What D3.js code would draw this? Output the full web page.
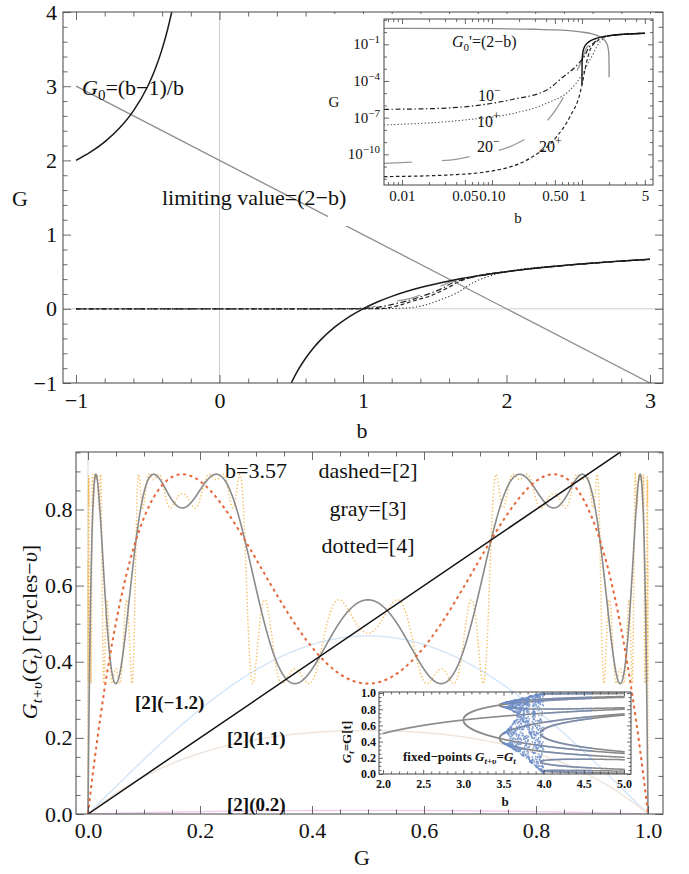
<!DOCTYPE html>
<html><head><meta charset="utf-8">
<script src="https://cdn.jsdelivr.net/npm/d3@7"></script>
<style>
body{margin:0;background:#fff;}
svg{display:block;}
</style></head><body>
<svg id="c" width="689" height="874"></svg>
<script>
// ================= DATA =================
// ---- Top panel (b vs G) ----
const topXMajor = [-1, 0, 1, 2, 3];
const topYMajor = [-1, 0, 1, 2, 3, 4];
// limiting value = (2-b)
const limitB = [-1, 3];
const limitG = [3, -1];
// G0 = (b-1)/b, branch b<0 and branch b>0
const g0NegB = [-1, -0.9, -0.8, -0.7, -0.6, -0.5, -0.45, -0.4, -0.36, -0.333];
const g0NegG = [2, 2.111, 2.25, 2.429, 2.667, 3, 3.222, 3.5, 3.778, 4.0];
const g0PosB = [0.5, 0.55, 0.6, 0.65, 0.7, 0.8, 0.9, 1.0, 1.1, 1.2, 1.4, 1.6, 1.8, 2.0, 2.25, 2.5, 2.75, 3.0];
const g0PosG = [-1, -0.818, -0.667, -0.538, -0.429, -0.25, -0.111, 0, 0.091, 0.167, 0.286, 0.375, 0.444, 0.5, 0.556, 0.6, 0.636, 0.667];
const c10mB = [-1, 0.0063, 0.0205, 0.0736, 0.172, 0.405, 0.62, 0.85, 1.0, 1.075, 1.19, 1.31, 1.42, 1.54, 1.63, 1.75, 2.0, 2.5, 3.0, 5.0];
const c10mG = [5e-7, 4.8e-7, 5.4e-7, 1.07e-6, 3.2e-6, 1.8e-5, 2.2e-4, 1.5e-3, 5.9e-3, 0.012, 0.054, 0.108, 0.175, 0.265, 0.355, 0.42, 0.5, 0.6, 0.667, 0.8];
const c10pB = [-1, 0.0063, 0.048, 0.172, 0.405, 0.735, 1.0, 1.2, 1.34, 1.45, 1.55, 1.66, 1.77, 1.89, 2.0, 2.5, 3.0, 5.0];
const c10pG = [2.4e-8, 2.5e-8, 6.3e-8, 2.2e-7, 1.5e-6, 1.8e-5, 3.2e-4, 4e-3, 0.018, 0.06, 0.13, 0.22, 0.355, 0.445, 0.5, 0.6, 0.667, 0.8];
const c20mB = [-1, 0.0063, 0.0158, 0.0341, 0.0676, 0.158, 0.288, 0.524, 0.735, 0.9, 1.0, 1.1, 1.2, 1.354, 1.5, 1.633, 2.0, 3.0, 5.0];
const c20mG = [1.8e-11, 1.8e-11, 2.5e-11, 3.4e-11, 8.7e-11, 4.2e-10, 5.2e-9, 5.8e-7, 4.7e-5, 1e-3, 5e-3, 0.04, 0.09, 0.153, 0.27, 0.38, 0.5, 0.667, 0.8];
const c20pB = [-1, 0.0063, 0.0313, 0.113, 0.264, 0.524, 0.735, 0.95, 1.0, 1.12, 1.238, 1.354, 1.47, 1.587, 1.668, 1.8, 2.0, 2.5, 3.0, 5.0];
const c20pG = [1.5e-12, 1.5e-12, 2e-12, 5.1e-12, 4.7e-11, 2.8e-9, 1.2e-7, 9.8e-6, 5e-5, 3e-3, 0.04, 0.108, 0.175, 0.28, 0.364, 0.444, 0.5, 0.6, 0.667, 0.8];
// ---- Top inset (log-log) ----
const insetXTicks = [0.01, 0.05, 0.1, 0.5, 1, 5];
const insetXLabels = ["0.01", "0.05", "0.10", "0.50", "1", "5"];
const insetYExp = [-1, -4, -7, -10];
const insetG0B = [1.00005, 1.0002, 1.001, 1.005, 1.02, 1.05, 1.1, 1.2, 1.4, 1.7, 2, 3, 5];
const insetG0G = [5e-5, 2e-4, 1e-3, 5e-3, 0.0196, 0.0476, 0.0909, 0.1667, 0.2857, 0.412, 0.5, 0.667, 0.8];
const insetLimB = [0.0063, 0.01, 0.1, 0.3, 0.5, 0.8, 1, 1.3, 1.6, 1.8, 1.9, 1.95, 1.98, 1.99, 1.995, 1.998, 1.999, 1.9998];
const insetLimG = [1.994, 1.99, 1.9, 1.7, 1.5, 1.2, 1, 0.7, 0.4, 0.2, 0.1, 0.05, 0.02, 0.01, 0.005, 0.002, 0.001, 2e-4];
// ---- Bottom panel: logistic map G -> b G (1-G) ----
const mainB = 3.57;
const cycleNames = ["[2]", "[3]", "[4]"];
const cycleOrders = [2, 4, 8];          // compositions shown
const lightB = [-1.2, 1.1, 0.2];        // [2](b) faint curves
const lightNames = ["[2](\u22121.2)", "[2](1.1)", "[2](0.2)"];
const botXMajor = [0, 0.2, 0.4, 0.6, 0.8, 1.0];
const botYMajor = [0, 0.2, 0.4, 0.6, 0.8];
// ---- Bottom inset: fixed points ----
const bifRange = [2.0, 5.0];
const bifOrder = 4;
const bifXMajor = [2.0, 2.5, 3.0, 3.5, 4.0, 4.5, 5.0];
const bifYMajor = [0, 0.2, 0.4, 0.6, 0.8, 1.0];
const orbitRange = [3.5, 4.0];

// ================= DRAWING =================
const FONT = '"Liberation Serif","Times New Roman",serif';
const svg = d3.select("#c").attr("font-family", FONT);
const TICK = "#444";

function zipPts(a, b) { return a.map((v, i) => [v, b[i]]); }
function minorRange(a, b, step, majors) {
  return d3.range(a, b + step / 2, step).filter(v => !majors.some(m => Math.abs(m - v) < step / 10));
}
function frameAxes(cfg) {
  const {x, y, xMajor, xMinor, yMajor, yMinor, L, l, fs, xFmt, yFmt, xPad, yPad, bold} = cfg;
  const [x0, x1] = x.range(), [y0, y1] = y.range(); // y0 bottom
  const g = svg.append("g");
  function style(sel) {
    sel.select(".domain").remove();
    sel.selectAll("line").attr("stroke", TICK).attr("stroke-width", 0.8);
    sel.attr("font-family", FONT).attr("font-size", fs).attr("font-weight", bold ? "bold" : null);
    sel.selectAll("text").attr("fill", "#111");
  }
  g.append("g").attr("transform", `translate(0,${y0})`).call(d3.axisBottom(x).tickValues(xMajor).tickSize(-L).tickPadding(xPad).tickFormat(xFmt)).call(style);
  g.append("g").attr("transform", `translate(0,${y0})`).call(d3.axisBottom(x).tickValues(xMinor).tickSize(-l).tickFormat("")).call(style);
  g.append("g").attr("transform", `translate(0,${y1})`).call(d3.axisTop(x).tickValues(xMajor).tickSize(-L).tickFormat("")).call(style);
  g.append("g").attr("transform", `translate(0,${y1})`).call(d3.axisTop(x).tickValues(xMinor).tickSize(-l).tickFormat("")).call(style);
  g.append("g").attr("transform", `translate(${x0},0)`).call(d3.axisLeft(y).tickValues(yMajor).tickSize(-L).tickPadding(yPad).tickFormat(yFmt)).call(style);
  g.append("g").attr("transform", `translate(${x0},0)`).call(d3.axisLeft(y).tickValues(yMinor).tickSize(-l).tickFormat("")).call(style);
  g.append("g").attr("transform", `translate(${x1},0)`).call(d3.axisRight(y).tickValues(yMajor).tickSize(-L).tickFormat("")).call(style);
  g.append("g").attr("transform", `translate(${x1},0)`).call(d3.axisRight(y).tickValues(yMinor).tickSize(-l).tickFormat("")).call(style);
  g.append("rect").attr("x", x0).attr("y", y1).attr("width", x1 - x0).attr("height", y0 - y1)
    .attr("fill", "none").attr("stroke", TICK).attr("stroke-width", 1);
  return g;
}
function clip(id, x, y) {
  const [x0, x1] = x.range(), [y0, y1] = y.range();
  svg.append("clipPath").attr("id", id).append("rect").attr("x", x0).attr("y", y1).attr("width", x1 - x0).attr("height", y0 - y1);
  return svg.append("g").attr("clip-path", `url(#${id})`);
}
function txt(g, x, y, size, opts = {}) {
  return g.append("text").attr("x", x).attr("y", y).attr("font-size", size).attr("fill", "#111")
    .attr("text-anchor", opts.anchor || "start").attr("font-weight", opts.bold ? "bold" : null);
}

// ---------- TOP PANEL ----------
const tx = d3.scaleLinear().domain([-1.0906, 3.0906]).range([63, 663]);
const ty = d3.scaleLinear().domain([-1, 4]).range([383, 12]);
const tg = clip("cTop", tx, ty);
// axis lines
tg.append("line").attr("x1", tx(0)).attr("x2", tx(0)).attr("y1", 12).attr("y2", 383).attr("stroke", "#cfcfcf");
tg.append("line").attr("x1", 63).attr("x2", 663).attr("y1", ty(0)).attr("y2", ty(0)).attr("stroke", "#cfcfcf");
const tLine = d3.line().x(d => tx(d[0])).y(d => ty(d[1])).curve(d3.curveMonotoneX);
const tPts = (B, G) => zipPts(B, G).filter(d => d[0] <= 3.2);
tg.append("path").attr("d", tLine(tPts(c10pB, c10pG))).attr("fill", "none").attr("stroke", "#333").attr("stroke-width", 1.1).attr("stroke-dasharray", "1.2,2.2");
tg.append("path").attr("d", tLine(tPts(c20mB, c20mG))).attr("fill", "none").attr("stroke", "#999").attr("stroke-width", 1.2).attr("stroke-dasharray", "24,22");
tg.append("path").attr("d", tLine(tPts(c20pB, c20pG))).attr("fill", "none").attr("stroke", "#222").attr("stroke-width", 1.2).attr("stroke-dasharray", "4,2.5");
tg.append("path").attr("d", tLine(tPts(c10mB, c10mG))).attr("fill", "none").attr("stroke", "#222").attr("stroke-width", 1.2).attr("stroke-dasharray", "6,2.5,1.5,2.5");
tg.append("path").attr("d", tLine(zipPts(limitB, limitG))).attr("fill", "none").attr("stroke", "#8c8c8c").attr("stroke-width", 1.3);
tg.append("path").attr("d", tLine(zipPts(g0NegB, g0NegG))).attr("fill", "none").attr("stroke", "#1a1a1a").attr("stroke-width", 1.5);
tg.append("path").attr("d", tLine(zipPts(g0PosB, g0PosG))).attr("fill", "none").attr("stroke", "#1a1a1a").attr("stroke-width", 1.5);
frameAxes({x: tx, y: ty, xMajor: topXMajor, xMinor: minorRange(-1, 3, 0.2, topXMajor),
  yMajor: topYMajor, yMinor: minorRange(-1, 4, 0.2, topYMajor), L: 8, l: 4.5, fs: 22,
  xFmt: d3.format("d"), yFmt: d3.format("d"), xPad: 9, yPad: 6});
txt(svg, 20, 206, 22, {anchor: "middle"}).text("G");
txt(svg, 362, 438, 22, {anchor: "middle"}).text("b");
{
  const t = txt(svg, 82, 95, 22);
  t.append("tspan").attr("font-style", "italic").text("G");
  t.append("tspan").attr("font-size", 15).attr("dy", 5).text("0");
  t.append("tspan").attr("dy", -5).text("=(b\u22121)/b");
}

// ---------- TOP INSET ----------
const ix = d3.scaleLog().domain([Math.pow(10, -2.2), Math.pow(10, 0.789)]).range([384, 653]);
const iy = d3.scaleLog().domain([Math.pow(10, -12.51), Math.pow(10, 1.07)]).range([185, 19]);
svg.append("rect").attr("x", 328).attr("y", 14).attr("width", 330).attr("height", 212).attr("fill", "#fff");
const ig = clip("cIns", ix, iy);
const iLine = d3.line().x(d => ix(d[0])).y(d => iy(d[1])).curve(d3.curveMonotoneX);
const iPts = (B, G) => zipPts(B, G).filter(d => d[0] > 0);
ig.append("path").attr("d", iLine(iPts(c20mB, c20mG))).attr("fill", "none").attr("stroke", "#999").attr("stroke-width", 1.3).attr("stroke-dasharray", "28,30");
ig.append("path").attr("d", iLine(iPts(c20pB, c20pG))).attr("fill", "none").attr("stroke", "#222").attr("stroke-width", 1.2).attr("stroke-dasharray", "3.5,2.5");
ig.append("path").attr("d", iLine(iPts(c10pB, c10pG))).attr("fill", "none").attr("stroke", "#444").attr("stroke-width", 1.1).attr("stroke-dasharray", "1.2,2.2");
ig.append("path").attr("d", iLine(iPts(c10mB, c10mG))).attr("fill", "none").attr("stroke", "#222").attr("stroke-width", 1.2).attr("stroke-dasharray", "5,2.5,1.5,2.5");
ig.append("path").attr("d", iLine(zipPts(insetLimB, insetLimG))).attr("fill", "none").attr("stroke", "#8c8c8c").attr("stroke-width", 1.3);
ig.append("path").attr("d", iLine(zipPts(insetG0B, insetG0G))).attr("fill", "none").attr("stroke", "#111").attr("stroke-width", 1.4);
{
  const xMinor = [];
  [0.001, 0.01, 0.1, 1].forEach(dec => { for (let k = 1; k <= 9; k++) { const v = dec * k; if (v > 0.0064 && v < 6 && !insetXTicks.some(m => Math.abs(m - v) < 1e-9)) xMinor.push(v); } });
  const yMaj = insetYExp.map(e => Math.pow(10, e));
  const yMin = d3.range(-12, 2).filter(e => !insetYExp.includes(e)).map(e => Math.pow(10, e));
  frameAxes({x: ix, y: iy, xMajor: insetXTicks, xMinor, yMajor: yMaj, yMinor: yMin, L: 5, l: 3, fs: 15,
    xFmt: (d, i) => insetXLabels[i], yFmt: () => "", xPad: 5, yPad: 4});
  insetYExp.forEach(e => {
    const t = txt(svg, 380, iy(Math.pow(10, e)) + 5, 15, {anchor: "end"});
    t.append("tspan").text("10");
    t.append("tspan").attr("font-size", 11).attr("dy", -6).text("\u2212" + Math.abs(e));
  });
}
txt(svg, 334, 107, 15, {anchor: "middle"}).text("G");
txt(svg, 518, 223, 15, {anchor: "middle"}).text("b");
{
  const t = txt(svg, 452, 47, 16);
  t.append("tspan").attr("font-style", "italic").text("G");
  t.append("tspan").attr("font-size", 11).attr("dy", 4).text("0");
  t.append("tspan").attr("dy", -4).text("'=(2\u2212b)");
}
[["10", "\u2212", 478, 101], ["10", "+", 477, 127], ["20", "\u2212", 477, 152], ["20", "+", 539, 152]].forEach(([a, s, x, y]) => {
  const t = txt(svg, x, y, 16);
  t.append("tspan").text(a);
  t.append("tspan").attr("font-size", 12).attr("dy", -7).text(s);
});
// main-panel label drawn over the inset background
txt(svg, 162, 205, 22).text("limiting value=(2\u2212b)");

// ---------- BOTTOM PANEL ----------
const fIter = (b, x, n) => { for (let i = 0; i < n; i++) x = b * x * (1 - x); return x; };
const bx = d3.scaleLinear().domain([-0.0214, 1.0268]).range([76, 663]);
const by = d3.scaleLinear().domain([0, 0.951]).range([814, 452]);
const bg = clip("cBot", bx, by);
bg.append("line").attr("x1", bx(0)).attr("x2", bx(0)).attr("y1", 452).attr("y2", 814).attr("stroke", "#d8d8d8");
const bLine = d3.line().x(d => bx(d[0])).y(d => by(d[1]));
const grid = d3.range(0, 6001).map(i => i / 6000);
const lightCol = ["#d3e6f9", "#eee4dc", "#f2cdf0"];
lightB.forEach((b, k) => {
  bg.append("path").attr("d", bLine(grid.filter((_, i) => i % 10 === 0).map(x => [x, fIter(b, x, 2)])))
    .attr("fill", "none").attr("stroke", lightCol[k]).attr("stroke-width", 1.4);
});
// dotted [4]
bg.append("path").attr("d", bLine(grid.map(x => [x, fIter(mainB, x, cycleOrders[2])])))
  .attr("fill", "none").attr("stroke", "#f5ae3c").attr("stroke-opacity", 0.85).attr("stroke-width", 1.5).attr("stroke-dasharray", "1.2,2.3");
// gray [3]
bg.append("path").attr("d", bLine(grid.filter((_, i) => i % 3 === 0).map(x => [x, fIter(mainB, x, cycleOrders[1])])))
  .attr("fill", "none").attr("stroke", "#8a8a8a").attr("stroke-width", 1.6);
// dashed [2]
bg.append("path").attr("d", bLine(grid.filter((_, i) => i % 6 === 0).map(x => [x, fIter(mainB, x, cycleOrders[0])])))
  .attr("fill", "none").attr("stroke", "#e6683a").attr("stroke-width", 2).attr("stroke-dasharray", "3,3.5");
// diagonal
bg.append("path").attr("d", bLine([[0, 0], [1, 1]])).attr("fill", "none").attr("stroke", "#111").attr("stroke-width", 1.5);
frameAxes({x: bx, y: by, xMajor: botXMajor, xMinor: minorRange(0, 1, 0.05, botXMajor),
  yMajor: botYMajor, yMinor: minorRange(0, 0.95, 0.05, botYMajor), L: 8, l: 4.5, fs: 22,
  xFmt: d3.format(".1f"), yFmt: d3.format(".1f"), xPad: 8.5, yPad: 3.5});
txt(svg, 362, 865, 22, {anchor: "middle"}).text("G");
{
  const t = svg.append("text").attr("transform", "translate(37,632) rotate(-90)").attr("text-anchor", "middle").attr("font-size", 22).attr("fill", "#111");
  t.append("tspan").attr("font-style", "italic").text("G");
  t.append("tspan").attr("font-style", "italic").attr("font-size", 15).attr("dy", 5).text("t+\u03c5");
  t.append("tspan").attr("dy", -5).text("(");
  t.append("tspan").attr("font-style", "italic").text("G");
  t.append("tspan").attr("font-style", "italic").attr("font-size", 15).attr("dy", 5).text("t");
  t.append("tspan").attr("dy", -5).text(") [Cycles\u2212");
  t.append("tspan").attr("font-style", "italic").text("\u03c5");
  t.append("tspan").text("]");
}
txt(svg, 256, 478, 22, {anchor: "middle"}).text("b=" + mainB);
txt(svg, 368, 478, 22, {anchor: "middle"}).text("dashed=" + cycleNames[0]);
txt(svg, 368, 516, 22, {anchor: "middle"}).text("gray=" + cycleNames[1]);
txt(svg, 368, 553, 22, {anchor: "middle"}).text("dotted=" + cycleNames[2]);
txt(svg, 135, 709, 19, {bold: true}).text(lightNames[0]);
txt(svg, 227, 745, 19, {bold: true}).text(lightNames[1]);
txt(svg, 227, 811, 19, {bold: true}).text(lightNames[2]);

// ---------- BOTTOM INSET ----------
const fx = d3.scaleLinear().domain([1.95, 5.087]).range([379, 631]);
const fy = d3.scaleLinear().domain([0, 1.0123]).range([774, 692]);
const fg2 = clip("cBif", fx, fy);
const roots = [];
const NG = 2000;
for (let b = bifRange[0]; b <= bifRange[1] + 1e-9; b += 0.0025) {
  let xp = 0.0005, gp = fIter(b, xp, bifOrder) - xp;
  for (let i = 1; i <= NG; i++) {
    const xc = 0.0005 + i * (0.9995 / NG), gc = fIter(b, xc, bifOrder) - xc;
    if (gp * gc <= 0) {
      let lo = xp, hi = xc, glo = gp;
      for (let k = 0; k < 30; k++) { const m = (lo + hi) / 2, gm = fIter(b, m, bifOrder) - m; if (glo * gm <= 0) hi = m; else { lo = m; glo = gm; } }
      roots.push([b, (lo + hi) / 2]);
    }
    xp = xc; gp = gc;
  }
}
let dr = "";
roots.forEach(([b, r]) => { dr += `M${(fx(b) - 0.75).toFixed(2)},${(fy(r) - 0.75).toFixed(2)}h1.5v1.5h-1.5z`; });
fg2.append("path").attr("d", dr).attr("fill", "#8a8a8a");
const orbit = [];
for (let b = orbitRange[0]; b <= orbitRange[1] + 1e-9; b += 0.004) {
  let x = 0.5;
  for (let i = 0; i < 300; i++) x = b * x * (1 - x);
  for (let i = 0; i < 8; i++) { x = b * x * (1 - x); orbit.push([b, x]); }
}
roots.filter(([b]) => b > 4.0 && b < 4.6 && Math.round(b / 0.0025) % 12 === 0).forEach(p => orbit.push(p));
fg2.append("g").selectAll("circle").data(orbit).join("circle")
  .attr("cx", d => fx(d[0])).attr("cy", d => fy(d[1])).attr("r", 0.9).attr("fill", "#6f8fc8").attr("fill-opacity", 0.8);
frameAxes({x: fx, y: fy, xMajor: bifXMajor, xMinor: minorRange(2, 5, 0.1, bifXMajor),
  yMajor: bifYMajor, yMinor: minorRange(0, 1, 0.05, bifYMajor), L: 4, l: 2.5, fs: 12, bold: true,
  xFmt: d3.format(".1f"), yFmt: d3.format(".1f"), xPad: 5.5, yPad: 3});
txt(svg, 505, 806, 13, {anchor: "middle", bold: true}).text("b");
{
  const t = svg.append("text").attr("transform", "translate(351,742) rotate(-90)").attr("text-anchor", "middle").attr("font-size", 13).attr("font-weight", "bold").attr("fill", "#111");
  t.append("tspan").attr("font-style", "italic").text("G");
  t.append("tspan").attr("font-style", "italic").attr("font-size", 9).attr("dy", 3).text("t");
  t.append("tspan").attr("dy", -3).text("=G[t]");
}
{
  const t = txt(svg, 403, 761, 13, {bold: true});
  t.append("tspan").text("fixed\u2212points ");
  t.append("tspan").attr("font-style", "italic").text("G");
  t.append("tspan").attr("font-style", "italic").attr("font-size", 9).attr("dy", 3).text("t+\u03c5");
  t.append("tspan").attr("dy", -3).text("=");
  t.append("tspan").attr("font-style", "italic").text("G");
  t.append("tspan").attr("font-style", "italic").attr("font-size", 9).attr("dy", 3).text("t");
}
</script>
</body></html>
